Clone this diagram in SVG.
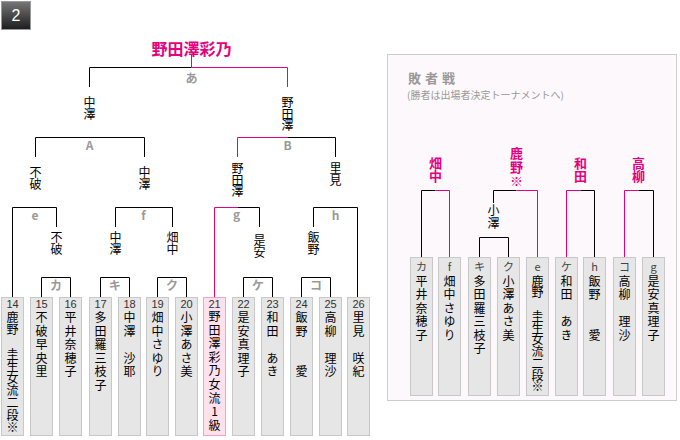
<svg xmlns="http://www.w3.org/2000/svg" width="680" height="440" viewBox="0 0 680 440">
<defs>
<linearGradient id="bg" x1="0" y1="0" x2="0" y2="1"><stop offset="0" stop-color="#777"/><stop offset="1" stop-color="#1c1c1c"/></linearGradient>
<style>
.ln{fill:none;stroke:#000;stroke-width:1}
.pk{fill:none;stroke:#e4007f;stroke-width:1}
.lb{font-family:"Noto Sans CJK JP","Liberation Sans",sans-serif;font-weight:bold;font-size:12px;fill:#9a9a9a;text-anchor:middle}
.v{writing-mode:vertical-rl;text-orientation:upright}
.vn{font-family:"Noto Sans CJK JP",sans-serif;font-size:12px;fill:#000;letter-spacing:-0.5px}
.hn{font-family:"Noto Sans CJK JP",sans-serif;font-weight:bold;font-size:13px;fill:#e4007f;letter-spacing:0.5px}
.bx{fill:#e6e6e6;stroke:#c8c8c8;stroke-width:1}
.bp{fill:#fde2ee;stroke:#f2a3c8;stroke-width:1}
.num{font-family:"Liberation Sans",sans-serif;font-size:11px;fill:#333;text-anchor:middle}
.bl{font-family:"Noto Sans CJK JP","Liberation Sans",sans-serif;font-size:11px;fill:#444;text-anchor:middle}
.bn{font-family:"Noto Sans CJK JP",sans-serif;font-size:12px;fill:#000;letter-spacing:1.6px}
.cn{font-family:"Noto Sans CJK JP",sans-serif;font-size:12px;fill:#000;letter-spacing:1.5px}
</style>
</defs>
<rect width="680" height="440" fill="#fff"/>
<g id="badge"><rect x="1.5" y="1.5" width="29" height="28" fill="url(#bg)" stroke="#999"/><text x="16" y="20.5" font-family="Liberation Sans,sans-serif" font-size="16" fill="#fff" text-anchor="middle">2</text></g>
<g id="champion"><text x="191.5" y="54.5" font-family="Noto Sans CJK JP,sans-serif" font-weight="bold" font-size="16" fill="#e4007f" text-anchor="middle">野田澤彩乃</text></g>

<g id="connectors">
<path class="ln" d="M89.5,87V67.5H191.5"/>
<path class="pk" d="M191.5,55V67.5H287.5V87"/>
<path class="ln" d="M35.5,157V137.5H144.5V157"/>
<path class="pk" d="M237.5,157V137.5H287.5"/>
<path class="ln" d="M287.5,137.5H335.5V157"/>
<path class="ln" d="M12.5,297V207.5H56.5V227"/>
<path class="ln" d="M115.5,227V207.5H172.5V227"/>
<path class="pk" d="M214.5,297V207.5H237.5"/>
<path class="ln" d="M237.5,207.5H259.5V227"/>
<path class="ln" d="M313.5,227V207.5H357.5V297"/>
<path class="ln" d="M41.5,297V277.5H70.5V297"/>
<path class="ln" d="M100.5,297V277.5H129.5V297"/>
<path class="ln" d="M157.5,297V277.5H186.5V297"/>
<path class="ln" d="M243.5,297V277.5H272.5V297"/>
<path class="ln" d="M301.5,297V277.5H330.5V297"/>
</g>

<g id="round-labels">
<text class="lb" x="191.5" y="83" font-size="13">あ</text>
<text class="lb" x="89.5" y="150">A</text>
<text class="lb" x="287.5" y="150">B</text>
<text class="lb" x="35" y="220">e</text>
<text class="lb" x="143.5" y="220">f</text>
<text class="lb" x="236.5" y="219">g</text>
<text class="lb" x="335.5" y="220">h</text>
<text class="lb" x="56" y="290">カ</text>
<text class="lb" x="115" y="290">キ</text>
<text class="lb" x="172" y="290">ク</text>
<text class="lb" x="258" y="290">ケ</text>
<text class="lb" x="316" y="290">コ</text>
</g>

<g id="winners">
<text class="v vn" x="89.5" y="96.5">中澤</text>
<text class="v vn" x="287.5" y="96.5">野田澤</text>
<text class="v vn" x="35.5" y="166.5">不破</text>
<text class="v vn" x="144.5" y="166.5">中澤</text>
<text class="v vn" x="237.5" y="162.5">野田澤</text>
<text class="v vn" x="335.5" y="162.5">里見</text>
<text class="v vn" x="56.5" y="231.5">不破</text>
<text class="v vn" x="115.5" y="231.5">中澤</text>
<text class="v vn" x="172.5" y="231.5">畑中</text>
<text class="v vn" x="259.5" y="234.5">是安</text>
<text class="v vn" x="313.5" y="231.5">飯野</text>
</g>

<g id="p14"><rect class="bx" x="1.5" y="297.5" width="22" height="138"/><text class="num" x="12.5" y="308">14</text><text class="v bn" x="12.5" y="311.5" style="letter-spacing:0.2px">鹿野　圭生女流二段※</text></g>
<g id="p15"><rect class="bx" x="30.5" y="297.5" width="22" height="138"/><text class="num" x="41.5" y="308">15</text><text class="v bn" x="41.5" y="311.5">不破早央里</text></g>
<g id="p16"><rect class="bx" x="59.5" y="297.5" width="22" height="138"/><text class="num" x="70.5" y="308">16</text><text class="v bn" x="70.5" y="311.5">平井奈穂子</text></g>
<g id="p17"><rect class="bx" x="89.5" y="297.5" width="22" height="138"/><text class="num" x="100.5" y="308">17</text><text class="v bn" x="100.5" y="311.5">多田羅三枝子</text></g>
<g id="p18"><rect class="bx" x="118.5" y="297.5" width="22" height="138"/><text class="num" x="129.5" y="308">18</text><text class="v bn" x="129.5" y="311.5">中澤　沙耶</text></g>
<g id="p19"><rect class="bx" x="146.5" y="297.5" width="22" height="138"/><text class="num" x="157.5" y="308">19</text><text class="v bn" x="157.5" y="311.5">畑中さゆり</text></g>
<g id="p20"><rect class="bx" x="175.5" y="297.5" width="22" height="138"/><text class="num" x="186.5" y="308">20</text><text class="v bn" x="186.5" y="311.5">小澤あさ美</text></g>
<g id="p21"><rect class="bp" x="203.5" y="297.5" width="22" height="138"/><text class="num" x="214.5" y="308">21</text><text class="v bn" x="214.5" y="310.5">野田澤彩乃女流1級</text></g>
<g id="p22"><rect class="bx" x="232.5" y="297.5" width="22" height="138"/><text class="num" x="243.5" y="308">22</text><text class="v bn" x="243.5" y="311.5">是安真理子</text></g>
<g id="p23"><rect class="bx" x="261.5" y="297.5" width="22" height="138"/><text class="num" x="272.5" y="308">23</text><text class="v bn" x="272.5" y="311.5">和田　あき</text></g>
<g id="p24"><rect class="bx" x="290.5" y="297.5" width="22" height="138"/><text class="num" x="301.5" y="308">24</text><text class="v bn" x="301.5" y="311.5">飯野　　愛</text></g>
<g id="p25"><rect class="bx" x="319.5" y="297.5" width="22" height="138"/><text class="num" x="330.5" y="308">25</text><text class="v bn" x="330.5" y="311.5">高柳　理沙</text></g>
<g id="p26"><rect class="bx" x="347.5" y="297.5" width="22" height="138"/><text class="num" x="358.5" y="308">26</text><text class="v bn" x="358.5" y="311.5">里見　咲紀</text></g>

<g id="consolation">
<rect x="387.5" y="54.5" width="289" height="346" fill="#fdf8fb" stroke="#cccccc"/>
<text x="408" y="83" font-family="Noto Sans CJK JP,sans-serif" font-weight="bold" font-size="13" fill="#999" letter-spacing="4">敗者戦</text>
<text x="407" y="98.5" font-family="Noto Sans CJK JP,sans-serif" font-size="10" fill="#999">(勝者は出場者決定トーナメントへ)</text>
</g>

<g id="consolation-connectors">
<path class="ln" d="M421.5,257V190.5H435.5"/>
<path class="pk" d="M435.5,190.5H449.5V257"/>
<path class="ln" d="M493.5,203V190.5H516.5"/>
<path class="pk" d="M516.5,190.5H537.5V257"/>
<path class="ln" d="M479.5,257V237.5H508.5V257"/>
<path class="pk" d="M566.5,257V190.5H580.5"/>
<path class="ln" d="M580.5,190.5H594.5V257"/>
<path class="pk" d="M624.5,257V190.5H638.5"/>
<path class="ln" d="M638.5,190.5H653.5V257"/>
</g>

<g id="consolation-winners">
<text class="v hn" x="435.5" y="156.5">畑中</text>
<text class="v hn" x="516.5" y="146.5" style="letter-spacing:1px">鹿野※</text>
<text class="v hn" x="580.5" y="156.5">和田</text>
<text class="v hn" x="638.5" y="156.5">高柳</text>
<text class="v vn" x="493.5" y="204.5" style="letter-spacing:0.5px">小澤</text>
</g>

<g id="c-ka"><rect class="bx" x="410.5" y="257.5" width="22" height="138"/><text class="bl" x="421.5" y="271">カ</text><text class="v cn" x="421.5" y="275">平井奈穂子</text></g>
<g id="c-f"><rect class="bx" x="438.5" y="257.5" width="22" height="138"/><text class="bl" x="449.5" y="271">f</text><text class="v cn" x="449.5" y="275">畑中さゆり</text></g>
<g id="c-ki"><rect class="bx" x="468.5" y="257.5" width="22" height="138"/><text class="bl" x="479.5" y="271">キ</text><text class="v cn" x="479.5" y="275">多田羅三枝子</text></g>
<g id="c-ku"><rect class="bx" x="497.5" y="257.5" width="22" height="138"/><text class="bl" x="508.5" y="271">ク</text><text class="v cn" x="508.5" y="275">小澤あさ美</text></g>
<g id="c-e"><rect class="bx" x="526.5" y="257.5" width="22" height="138"/><text class="bl" x="537.5" y="271">e</text><text class="v cn" x="537.5" y="275" style="letter-spacing:-0.25px">鹿野　圭生女流二段※</text></g>
<g id="c-ke"><rect class="bx" x="555.5" y="257.5" width="22" height="138"/><text class="bl" x="566.5" y="271">ケ</text><text class="v cn" x="566.5" y="275">和田　あき</text></g>
<g id="c-h"><rect class="bx" x="583.5" y="257.5" width="22" height="138"/><text class="bl" x="594.5" y="271">h</text><text class="v cn" x="594.5" y="275">飯野　　愛</text></g>
<g id="c-ko"><rect class="bx" x="613.5" y="257.5" width="22" height="138"/><text class="bl" x="624.5" y="271">コ</text><text class="v cn" x="624.5" y="275">高柳　理沙</text></g>
<g id="c-g"><rect class="bx" x="642.5" y="257.5" width="22" height="138"/><text class="bl" x="653.5" y="271">g</text><text class="v cn" x="653.5" y="275">是安真理子</text></g>
</svg>
